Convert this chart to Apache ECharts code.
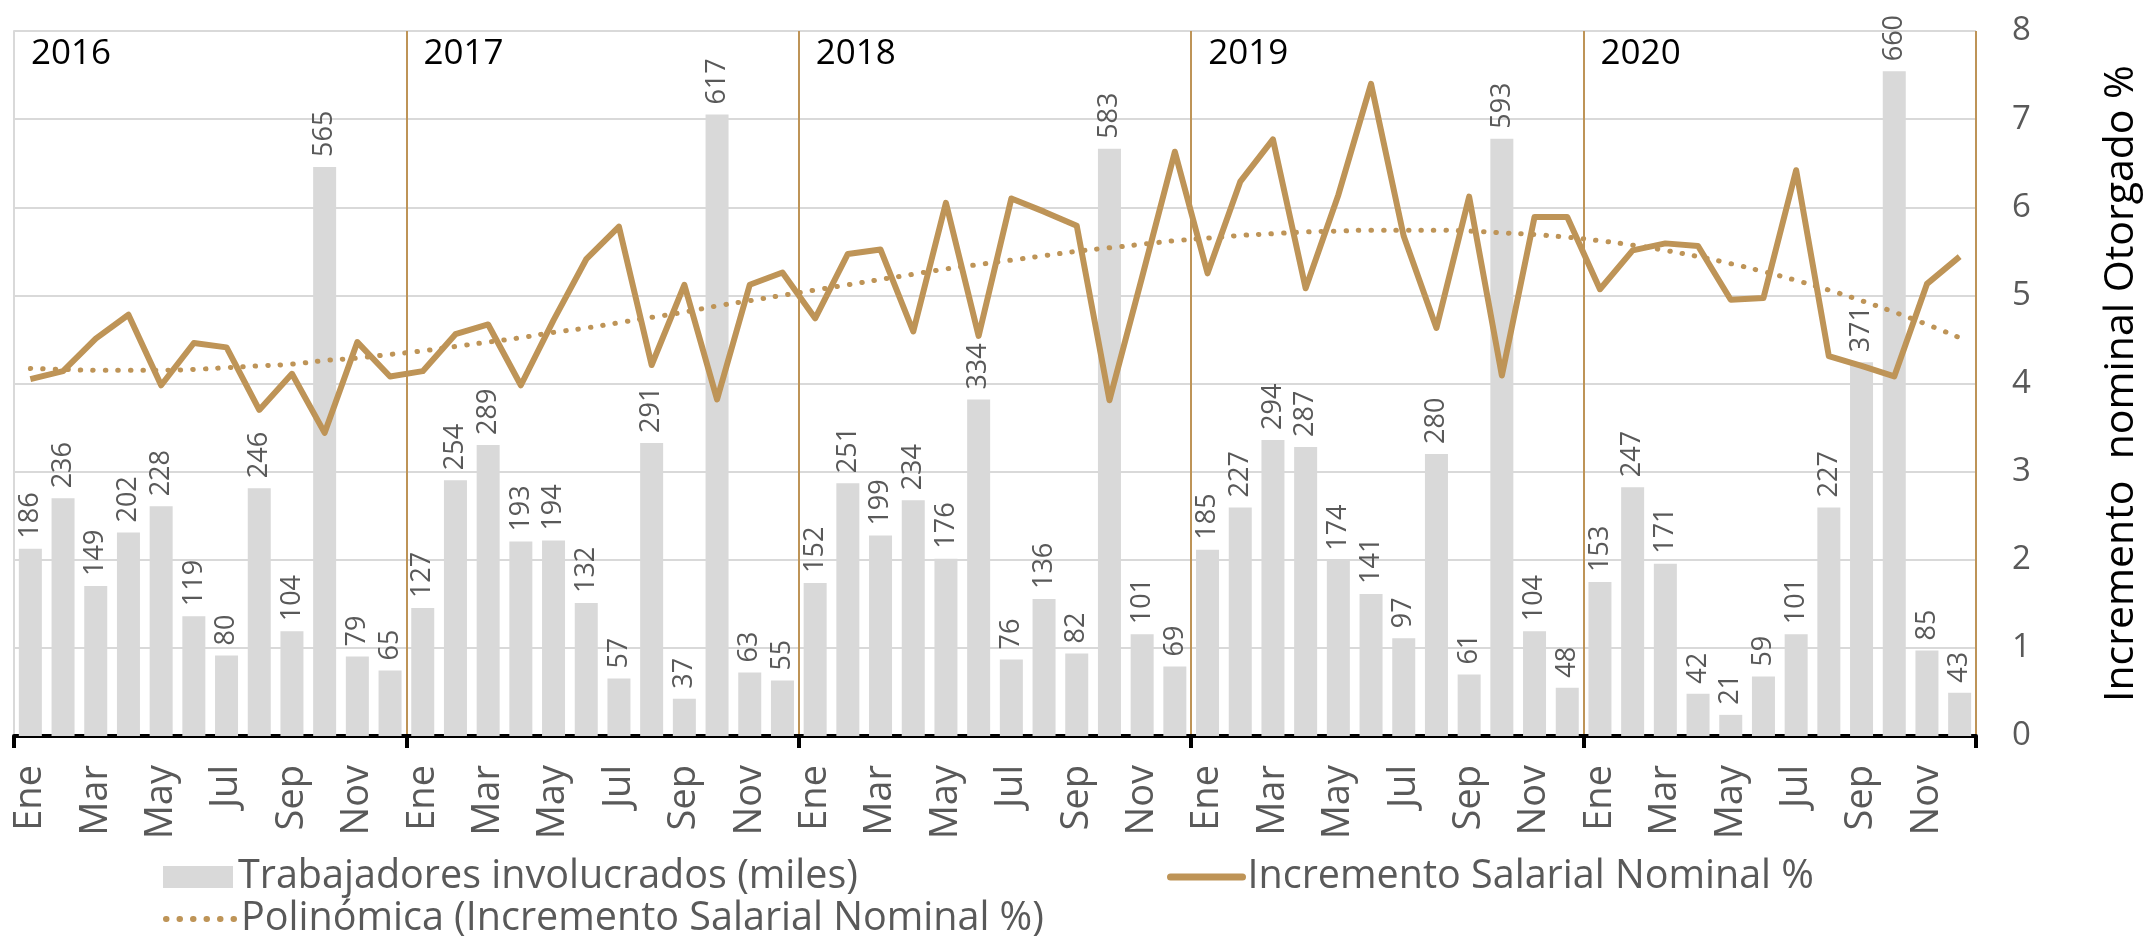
<!DOCTYPE html>
<html>
<head>
<meta charset="utf-8">
<script src="https://cdn.jsdelivr.net/npm/echarts@6/dist/echarts.min.js"></script>
<style>
    html, body { margin: 0; padding: 0; background: #fff; }
    #mainChart { width: 2151px; height: 937px; }
</style>
</head>
<body>
<div id="mainChart"></div>
<script>
// 年份与月份
var years = ['2016', '2017', '2018', '2019', '2020'];
var monthNames = ['Ene', 'Feb', 'Mar', 'Abr', 'May', 'Jun', 'Jul', 'Ago', 'Sep', 'Oct', 'Nov', 'Dic'];

// Trabajadores involucrados (miles)
var workers = [
    186, 236, 149, 202, 228, 119, 80, 246, 104, 565, 79, 65,
    127, 254, 289, 193, 194, 132, 57, 291, 37, 617, 63, 55,
    152, 251, 199, 234, 176, 334, 76, 136, 82, 583, 101, 69,
    185, 227, 294, 287, 174, 141, 97, 280, 61, 593, 104, 48,
    153, 247, 171, 42, 21, 59, 101, 227, 371, 660, 85, 43
];

// Incremento Salarial Nominal %
var salaryIncrease = [
    4.05, 4.14, 4.51, 4.78, 3.98, 4.46, 4.41, 3.70, 4.11, 3.44, 4.47, 4.08,
    4.14, 4.56, 4.67, 3.98, 4.72, 5.41, 5.78, 4.21, 5.12, 3.82, 5.12, 5.26,
    4.74, 5.47, 5.52, 4.59, 6.05, 4.54, 6.10, 5.95, 5.79, 3.81, 5.21, 6.63,
    5.25, 6.29, 6.77, 5.08, 6.14, 7.40, 5.67, 4.63, 6.12, 4.09, 5.89, 5.89,
    5.07, 5.51, 5.59, 5.56, 4.95, 4.97, 6.42, 4.31, 4.20, 4.08, 5.13, 5.44
];

// Polinómica (línea de tendencia)
var trendPoly = [
    4.17, 4.16, 4.15, 4.15, 4.15, 4.16, 4.18, 4.20, 4.22, 4.26, 4.29, 4.33,
    4.37, 4.42, 4.47, 4.52, 4.58, 4.63, 4.69, 4.75, 4.81, 4.88, 4.94, 5.00,
    5.06, 5.12, 5.18, 5.24, 5.30, 5.35, 5.40, 5.45, 5.50, 5.54, 5.58, 5.62,
    5.65, 5.68, 5.70, 5.72, 5.73, 5.74, 5.74, 5.74, 5.73, 5.71, 5.69, 5.66,
    5.62, 5.57, 5.51, 5.44, 5.36, 5.27, 5.17, 5.06, 4.94, 4.81, 4.67, 4.52
];

// 右轴刻度
var pctAxisMin = 0;
var pctAxisMax = 8;
var pctAxisStep = 1;
// 左轴（隐藏）范围
var workersAxisMax = 700;

var FONT = 'Open Sans';
var GOLD = '#BE9457';
var GREY_BAR = '#D9D9D9';
var TEXT_GREY = '#595959';

function chartRender() {
    var chart = echarts.init(document.getElementById('mainChart'));

    // 类目：每个月带年份，保证唯一
    var categories = [];
    years.forEach(function (y) {
        monthNames.forEach(function (m) {
            categories.push(m + ' ' + y);
        });
    });

    // 年份标签区域
    var yearAreas = years.map(function (y, k) {
        return [
            { name: y, xAxis: k * 12, yAxis: workersAxisMax },
            { xAxis: k * 12 + 11, yAxis: workersAxisMax - 60 }
        ];
    });

    var legendText = { fontSize: 39.5, color: TEXT_GREY, fontFamily: FONT };

    var option = {
        animation: false,
        textStyle: { fontFamily: FONT },
        grid: {
            left: 14,
            right: 175,
            top: 31,
            bottom: 201
        },
        legend: [
            {
                data: ['Trabajadores involucrados (miles)'],
                left: 158, top: 852,
                itemWidth: 70, itemHeight: 22,
                icon: 'rect',
                textStyle: legendText
            },
            {
                data: ['Incremento Salarial Nominal %'],
                left: 1162, top: 852,
                itemWidth: 72, itemHeight: 22,
                itemStyle: { opacity: 0 },
                lineStyle: { width: 7, cap: 'round' },
                textStyle: legendText
            },
            {
                data: ['Polinómica (Incremento Salarial Nominal %)'],
                left: 158, top: 894,
                itemWidth: 70, itemHeight: 22,
                itemStyle: { opacity: 0 },
                lineStyle: { width: 6, type: [0.5, 13], cap: 'round' },
                textStyle: legendText
            }
        ],
        xAxis: [
            {
                // 月份类目轴
                type: 'category',
                data: categories,
                boundaryGap: true,
                axisLine: { show: false },
                axisTick: { show: false },
                axisLabel: {
                    interval: 1,
                    rotate: 90,
                    margin: 29,
                    fontSize: 38,
                    color: TEXT_GREY,
                    fontFamily: FONT,
                    formatter: function (v) { return v.split(' ')[0]; }
                },
                splitLine: { show: false }
            },
            {
                // 年份分隔线与刻度
                type: 'value',
                min: 0,
                max: categories.length,
                interval: 12,
                position: 'bottom',
                axisLabel: { show: false },
                axisLine: { show: true, lineStyle: { color: '#000', width: 4 } },
                axisTick: { show: true, length: 12, lineStyle: { color: '#000', width: 4 } },
                splitLine: {
                    show: true,
                    showMinLine: false,
                    lineStyle: { color: GOLD, width: 2 }
                }
            }
        ],
        yAxis: [
            {
                // 左轴（人数，隐藏）
                type: 'value',
                min: 0,
                max: workersAxisMax,
                axisLabel: { show: false },
                axisTick: { show: false },
                splitLine: { show: false },
                axisLine: { show: true, lineStyle: { color: GREY_BAR, width: 2 } }
            },
            {
                // 右轴（%）
                type: 'value',
                position: 'right',
                min: pctAxisMin,
                max: pctAxisMax,
                interval: pctAxisStep,
                name: 'Incremento  nominal Otorgado %',
                nameLocation: 'middle',
                nameRotate: 90,
                nameGap: 125,
                nameTextStyle: { fontSize: 41, color: '#000', fontFamily: FONT },
                axisLine: { show: false },
                axisTick: { show: false },
                axisLabel: { margin: 36, fontSize: 33, color: TEXT_GREY, fontFamily: FONT },
                splitLine: { show: true, lineStyle: { color: GREY_BAR, width: 2 } }
            }
        ],
        series: [
            {
                name: 'Trabajadores involucrados (miles)',
                type: 'bar',
                xAxisIndex: 0,
                yAxisIndex: 0,
                data: workers,
                barWidth: 23,
                itemStyle: { color: GREY_BAR },
                label: {
                    show: true,
                    position: 'top',
                    rotate: 90,
                    align: 'left',
                    verticalAlign: 'middle',
                    distance: 10,
                    fontSize: 27,
                    color: TEXT_GREY,
                    fontFamily: FONT
                },
                markArea: {
                    silent: true,
                    itemStyle: { color: 'rgba(0,0,0,0)' },
                    label: {
                        show: true,
                        position: 'insideTopLeft',
                        distance: 0,
                        offset: [17, 6],
                        fontSize: 35,
                        color: '#000',
                        fontFamily: FONT
                    },
                    data: yearAreas
                }
            },
            {
                name: 'Incremento Salarial Nominal %',
                type: 'line',
                xAxisIndex: 0,
                yAxisIndex: 1,
                data: salaryIncrease,
                symbol: 'none',
                lineStyle: { color: GOLD, width: 6, join: 'round' },
                itemStyle: { color: GOLD },
                z: 3
            },
            {
                name: 'Polinómica (Incremento Salarial Nominal %)',
                type: 'line',
                xAxisIndex: 0,
                yAxisIndex: 1,
                data: trendPoly,
                symbol: 'none',
                smooth: true,
                lineStyle: { color: GOLD, width: 5, type: [0.5, 12], cap: 'round' },
                itemStyle: { color: GOLD },
                z: 4
            }
        ]
    };

    chart.setOption(option);
}

chartRender();
</script>
</body>
</html>
